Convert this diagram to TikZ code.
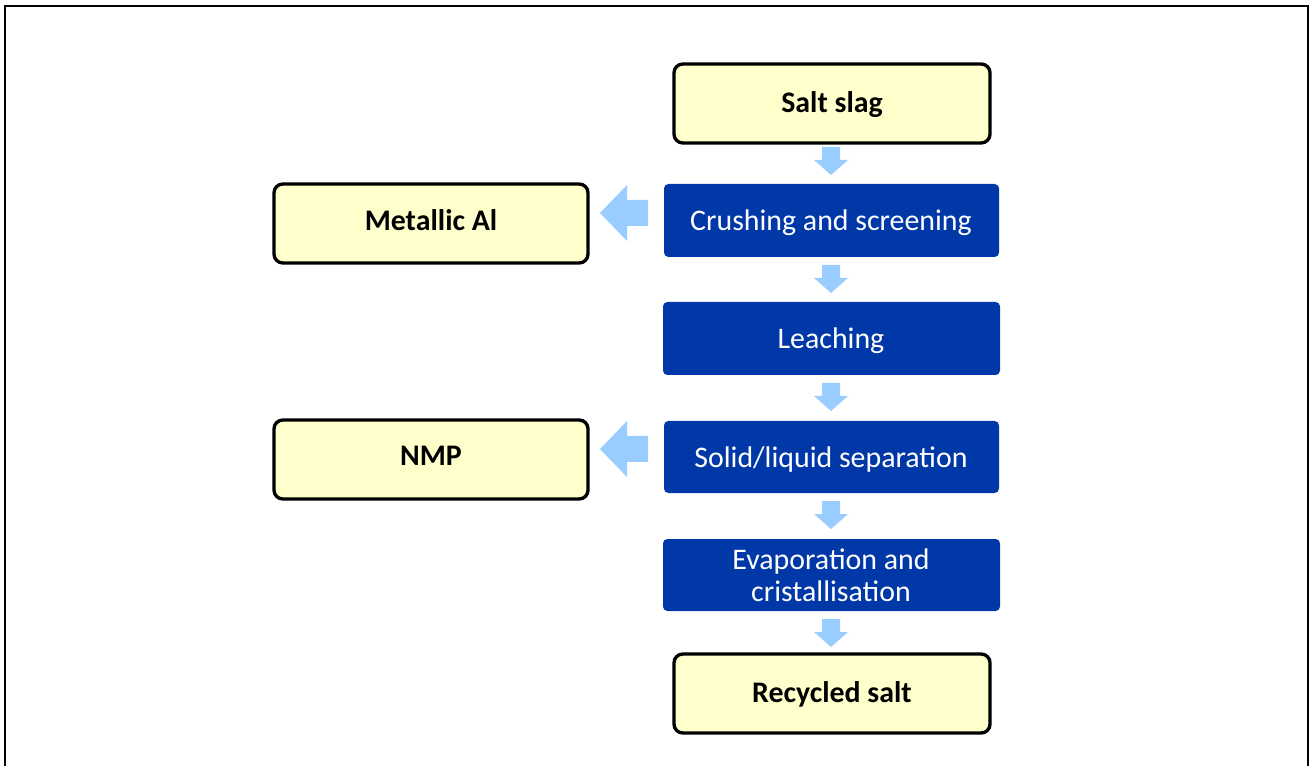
\documentclass[tikz,border=0pt]{standalone}
\usepackage{fontspec}
\setmainfont{Carlito}
\definecolor{ybox}{HTML}{FFFFCC}
\definecolor{bbox}{HTML}{0038A8}
\definecolor{larrow}{HTML}{99CCFF}
\begin{document}
\begin{tikzpicture}[x=0.02cm,y=-0.02cm,
  yel/.style={draw=black,line width=1.9pt,fill=ybox,rounded corners=5pt},
  blu/.style={fill=bbox,rounded corners=2.5pt},
  ytxt/.style={font=\fontsize{17}{20}\selectfont\bfseries,text=black},
  btxt/.style={font=\fontsize{17}{20}\selectfont,text=white,align=center},
  flow/.style={fill=larrow}]
\useasboundingbox (0,0) rectangle (1311,766);
% outer frame
\draw[line width=1.4pt] (5,800) -- (5,6) -- (1308,6) -- (1308,800);
% yellow boxes
\path[yel] (674,64) rectangle (990,143);
\node[ytxt] (salt) at (832,105) {Salt slag};
\path[yel] (274,184) rectangle (588,263);
\node[ytxt] (metal) at (431,220) {Metallic Al};
\path[yel] (274,420) rectangle (588,499);
\node[ytxt] (nmp) at (431,456) {NMP};
\path[yel] (674,654) rectangle (990,733);
\node[ytxt] (recy) at (832,694) {Recycled salt};
% blue boxes
\path[blu] (664,184) rectangle (999,257);
\node[btxt] (crush) at (831,223) {Crushing and screening};
\path[blu] (663,302) rectangle (1000,375);
\node[btxt] (leach) at (831,341) {Leaching};
\path[blu] (664,421) rectangle (999,493);
\node[btxt] (solid) at (831,460) {Solid/liquid separation};
\path[blu] (663,539) rectangle (1000,611);
\node[btxt,text depth=0pt] (evap) at (831,575) {Evaporation and\\[-2pt]cristallisation};
% down arrows
\foreach \y in {147,265,383,501,619}{
  \fill[flow] (822,\y) -- (840,\y) -- (840,\y+13) -- (848,\y+13) -- (831,\y+28) -- (814,\y+13) -- (822,\y+13) -- cycle;
}
% left arrows
\foreach \y in {213,449}{
  \fill[flow] (648,\y-13) -- (627,\y-13) -- (627,\y-28) -- (600,\y) -- (627,\y+28) -- (627,\y+13) -- (648,\y+13) -- cycle;
}
\end{tikzpicture}
\end{document}
